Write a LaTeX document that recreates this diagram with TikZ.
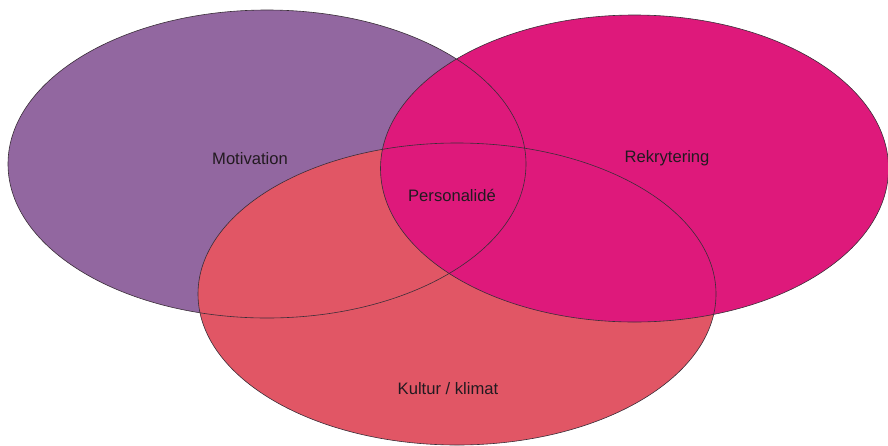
\documentclass[tikz,border=0pt]{standalone}
\usepackage{fontspec}
\setmainfont{Liberation Sans}
\definecolor{vpurple}{HTML}{9267A0}
\definecolor{vred}{HTML}{E15665}
\definecolor{vmagenta}{HTML}{DE197B}
\definecolor{vline}{HTML}{3A2E38}
\definecolor{vtext}{HTML}{221A20}
\begin{document}
\begin{tikzpicture}[x=1pt,y=-1pt,
  setlabel/.style={text=vtext,font=\fontsize{16.6}{19}\selectfont,inner sep=0pt},
  setrim/.style={draw=vline,line width=0.6pt}]
\useasboundingbox (0,0) rectangle (888,445);
\clip (0,0) rectangle (888,445);
% filled sets: purple below, red in the middle, magenta on top
\fill[vpurple] (267,164) ellipse [x radius=259,y radius=154];
\fill[vred] (457,294) ellipse [x radius=259,y radius=151];
\fill[vmagenta] (634.5,168.5) ellipse [x radius=254,y radius=153.5];
% outlines over all fills
\draw[setrim] (267,164) ellipse [x radius=259,y radius=154];
\draw[setrim] (457,294) ellipse [x radius=259,y radius=151];
\draw[setrim] (634.5,168.5) ellipse [x radius=254,y radius=153.5];
% labels
\node[setlabel] (motivation) at (250,159) {Motivation};
\node[setlabel] (rekrytering) at (667,158) {Rekrytering};
\node[setlabel] (personalide) at (452,195) {Personalidé};
\node[setlabel] (kultur) at (448,389) {Kultur / klimat};
\end{tikzpicture}
\end{document}
